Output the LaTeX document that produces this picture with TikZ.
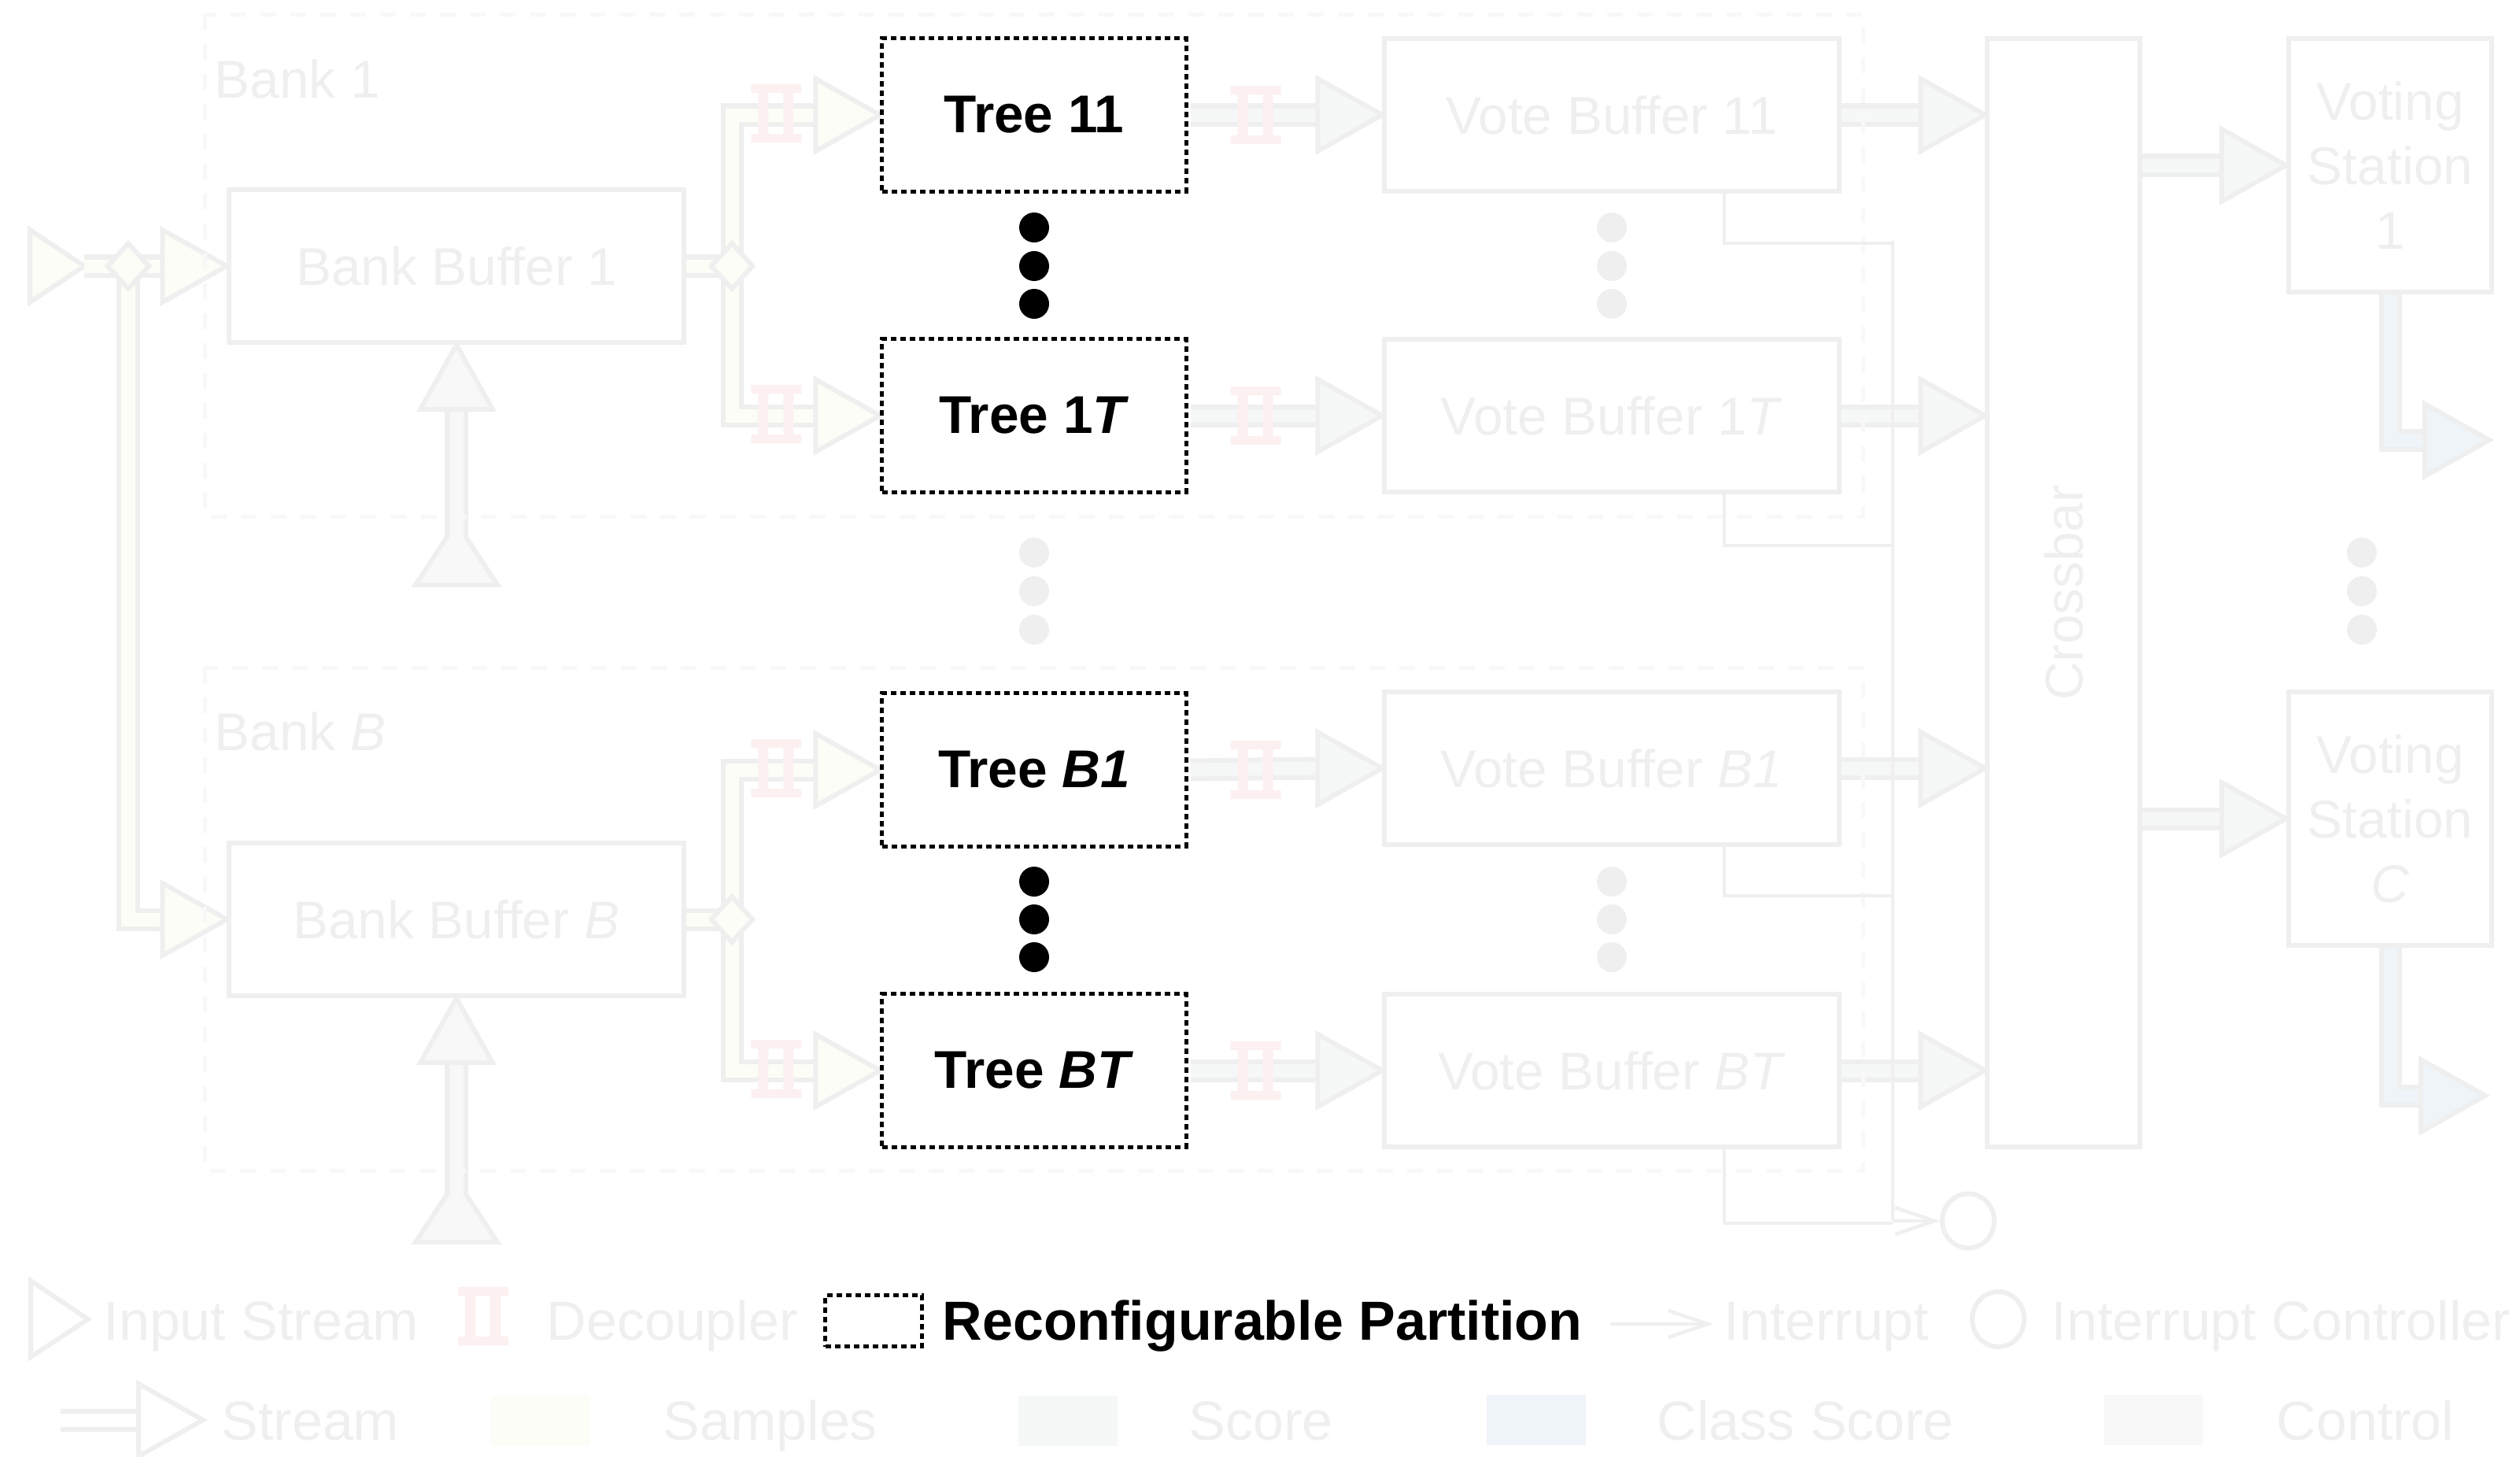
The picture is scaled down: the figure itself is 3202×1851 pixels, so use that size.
\documentclass[tikz,border=0pt]{standalone}
\usepackage{fontspec}
\setmainfont{Liberation Sans}
\usetikzlibrary{shapes,arrows.meta,positioning,calc,backgrounds}

\definecolor{linegray}{HTML}{EFEFEF}
\definecolor{bankgray}{HTML}{F8F8F8}
\definecolor{samplefill}{HTML}{FCFDF6}
\definecolor{scorefill}{HTML}{F5F8F7}
\definecolor{classfill}{HTML}{EFF4F9}
\definecolor{ctrlfill}{HTML}{F8F8F8}
\definecolor{decfill}{HTML}{FDF0F0}

\newcommand{\diagfont}{\fontsize{19.2}{23.3}\selectfont}
\newcommand{\legendfont}{\fontsize{19.9}{24}\selectfont}
% stream arrow heads, tip at #1
\newcommand{\headright}[2]{\filldraw[fade, fill=#2] (#1) -- ++(-82,-46) -- ++(0,92) -- cycle;}
\newcommand{\headup}[2]{\filldraw[fade, fill=#2] (#1) -- ++(-46,82) -- ++(92,0) -- cycle;}

\tikzset{
  fade/.style={draw=linegray, line width=0.06cm, text=linegray},
  block/.style={fade, rectangle, minimum width=5.77cm, minimum height=1.94cm, font=\diagfont},
  station/.style={block, minimum width=2.58cm, minimum height=3.22cm, align=center},
  tree/.style={draw=black, line width=0.05cm, dash pattern=on 0.07cm off 0.05cm, rectangle,
    minimum width=3.86cm, minimum height=1.94cm, font=\diagfont\bfseries},
  bank/.style={draw=bankgray, line width=0.05cm, dash pattern=on 0.2cm off 0.18cm},
  banklabel/.style={anchor=base west, inner sep=0pt, font=\diagfont, text=linegray},
  strm/.style={draw=linegray, line width=0.06cm, double=#1, double distance=0.17cm},
  split/.style={fade, diamond, fill=samplefill, minimum width=0.55cm, minimum height=0.6cm, inner sep=0pt},
  irqline/.style={draw=linegray, line width=0.045cm},
  dot/.style={circle, fill=black, minimum size=0.38cm, inner sep=0pt},
  fadedot/.style={dot, fill=linegray},
  swatch/.style={minimum width=1.26cm, minimum height=0.64cm, inner sep=0pt},
  legend/.style={anchor=base west, inner sep=0pt, font=\legendfont, text=linegray},
  decoupler/.pic={
    \fill[decfill] (-32,-37) rectangle (32,-26) (-32,26) rectangle (32,37)
      (-23,-26) rectangle (-10,26) (9,-26) rectangle (22,26);
  },
}

\begin{document}
\begin{tikzpicture}[x=0.01cm, y=-0.01cm]
\useasboundingbox (0,0) rectangle (3202,1851);

% banks
\draw[bank] (260,18) rectangle (2367,656);
\draw[bank] (260,848) rectangle (2367,1487);
\node[banklabel] (lbank1) at (272,124) {Bank 1};
\node[banklabel] (lbankB) at (272,953) {Bank \textit{B}};

% blocks
\node[block] (bb1) at (580,338) {Bank Buffer 1};
\node[block] (bbB) at (580,1168) {Bank Buffer \textit{B}};
\node[tree] (t11) at (1314,146) {Tree 11};
\node[tree] (t1T) at (1314,528) {Tree 1\textit{T}};
\node[tree] (tB1) at (1314,978) {Tree \textit{B1}};
\node[tree] (tBT) at (1314,1360) {Tree \textit{BT}};
\node[block] (vb11) at (2048,146) {Vote Buffer 11};
\node[block] (vb1T) at (2048,528) {Vote Buffer 1\textit{T}};
\node[block] (vbB1) at (2048,976) {Vote Buffer \textit{B1}};
\node[block] (vbBT) at (2048,1360) {Vote Buffer \textit{BT}};
\node[fade, minimum width=1.93cm, minimum height=14.08cm] (xbar) at (2622,753) {};
\node[rotate=90, font=\diagfont, text=linegray] (lxbar) at (xbar.center) {Crossbar};
\node[station] (vs1) at (3037,210) {Voting\\Station\\1};
\node[station] (vsC) at (3037,1040) {Voting\\Station\\\textit{C}};
\node[fade, ellipse, minimum width=0.66cm, minimum height=0.69cm, inner sep=0pt] (irq) at (2501,1551) {};

\coordinate (in) at (107,338);
\coordinate (sp0) at (163,338);
\coordinate (sp1) at (930,338);
\coordinate (spB) at (930,1168);
\coordinate (out1) at (3163,559);
\coordinate (outC) at (3158,1392);
\coordinate (c1) at (580,664);
\coordinate (cB) at (580,1499);

\begin{scope}[on background layer]
  % samples
  \filldraw[fade, fill=samplefill] (38,292) -- (38,384) -- (in) -- cycle;
  \draw[strm=samplefill] (in) -- ($(bb1.west)+(-79,0)$);
  \draw[strm=samplefill] (sp0) |- ($(bbB.west)+(-79,0)$);
  \headright{bb1.west}{samplefill}
  \headright{bbB.west}{samplefill}
  \draw[strm=samplefill] (bb1.east) -- (sp1);
  \draw[strm=samplefill] ($(t11.west)+(-79,0)$) -| (sp1) |- ($(t1T.west)+(-79,0)$);
  \draw[strm=samplefill] (bbB.east) -- (spB);
  \draw[strm=samplefill] ($(tB1.west)+(-79,0)$) -| (spB) |- ($(tBT.west)+(-79,0)$);
  \foreach \t in {t11,t1T,tB1,tBT} {
    \headright{\t.west}{samplefill}
    \pic at ($(\t.west)+(-132,-2)$) {decoupler};
  }
  \foreach \s in {sp0,sp1,spB} \node[split] at (\s) {};

  % scores
  \foreach \t/\v in {t11/vb11,t1T/vb1T,tB1/vbB1,tBT/vbBT} {
    \draw[strm=scorefill] ($(\t.east)+(3,0)$) -- ($(\v.west)+(-79,0)$);
    \headright{\v.west}{scorefill}
    \pic at ($(\t.east)+(86,0)$) {decoupler};
    \draw[strm=scorefill] (\v.east) -- ($(\v.east -| xbar.west)+(-79,0)$);
    \headright{\v.east -| xbar.west}{scorefill}
  }
  \foreach \v in {vs1,vsC} {
    \draw[strm=scorefill] (xbar.east |- \v.west) -- ($(\v.west)+(-79,0)$);
    \headright{\v.west}{scorefill}
  }

  % class scores
  \draw[strm=classfill] (vs1.south) |- ($(out1)+(-79,0)$);
  \headright{out1}{classfill}
  \draw[strm=classfill] (vsC.south) |- ($(outC)+(-79,0)$);
  \headright{outC}{classfill}

  % control
  \foreach \c/\b in {c1/bb1,cB/bbB} {
    \filldraw[fade, fill=ctrlfill] (\c) -- ++(-52,79) -- ++(104,0) -- cycle;
    \draw[strm=ctrlfill] ($(\c)+(0,18)$) -- ($(\b.south)+(0,79)$);
    \headup{\b.south}{ctrlfill}
  }
\end{scope}

% interrupts
\coordinate (bustop) at (2405,306);
\coordinate (busend) at (2405,1551);
\foreach \v/\d in {vb11/63,vb1T/65,vbB1/62,vbBT/94}
  \draw[irqline] ($(\v.south)+(143,0)$) -- ++(0,\d) -- ++(214,0);
\draw[irqline] (bustop) -- (busend);
\draw[irqline, -{Straight Barb[length=0.5cm, width=0.34cm]}] (busend) -- (irq.west);

% dots
\foreach \y [count=\i] in {289,338,386} {
  \node[dot] (dA\i) at (1314,\y) {};
  \node[fadedot] (fA\i) at (2048,\y) {};
}
\foreach \y [count=\i] in {1120,1168,1216} {
  \node[dot] (dB\i) at (1314,\y) {};
  \node[fadedot] (fB\i) at (2048,\y) {};
}
\foreach \y [count=\i] in {702,751,800} {
  \node[fadedot] (fT\i) at (1314,\y) {};
  \node[fadedot] (fV\i) at (3001,\y) {};
}

% legend
\filldraw[fade, fill=white] (39,1627) -- (39,1724) -- (112,1676) -- cycle;
\node[legend] (kin) at (131,1702) {Input Stream};
\pic at (614,1672) {decoupler};
\node[legend] (kdec) at (694,1702) {Decoupler};
\node[tree, minimum width=1.22cm, minimum height=0.65cm] (krp) at (1110,1678) {};
\node[legend, text=black, font=\legendfont\bfseries] (krptext) at (1197,1702) {Reconfigurable Partition};
\coordinate (kirqa) at (2046,1682);
\coordinate (kirqb) at (2177,1682);
\draw[irqline, -{Straight Barb[length=0.5cm, width=0.34cm]}] (kirqa) -- (kirqb);
\node[legend] (kirq) at (2190,1702) {Interrupt};
\node[fade, ellipse, minimum width=0.66cm, minimum height=0.7cm, inner sep=0pt] (kctl) at (2539,1676) {};
\node[legend] (kctltext) at (2606,1702) {Interrupt Controller};

\coordinate (kstra) at (77,1804);
\coordinate (kstrb) at (258,1804);
\draw[strm=white] (kstra) -- ($(kstrb)+(-79,0)$);
\headright{kstrb}{white}
\node[legend] (kstr) at (281,1829) {Stream};
\node[swatch, fill=samplefill] (ksam) at (687,1805) {};
\node[legend] (ksamtext) at (842,1829) {Samples};
\node[swatch, fill=scorefill] (ksco) at (1357,1805) {};
\node[legend] (kscotext) at (1510,1829) {Score};
\node[swatch, fill=classfill] (kcls) at (1952,1804) {};
\node[legend] (kclstext) at (2105,1829) {Class Score};
\node[swatch, fill=ctrlfill] (kcon) at (2736,1804) {};
\node[legend] (kcontext) at (2892,1829) {Control};
\end{tikzpicture}
\end{document}
